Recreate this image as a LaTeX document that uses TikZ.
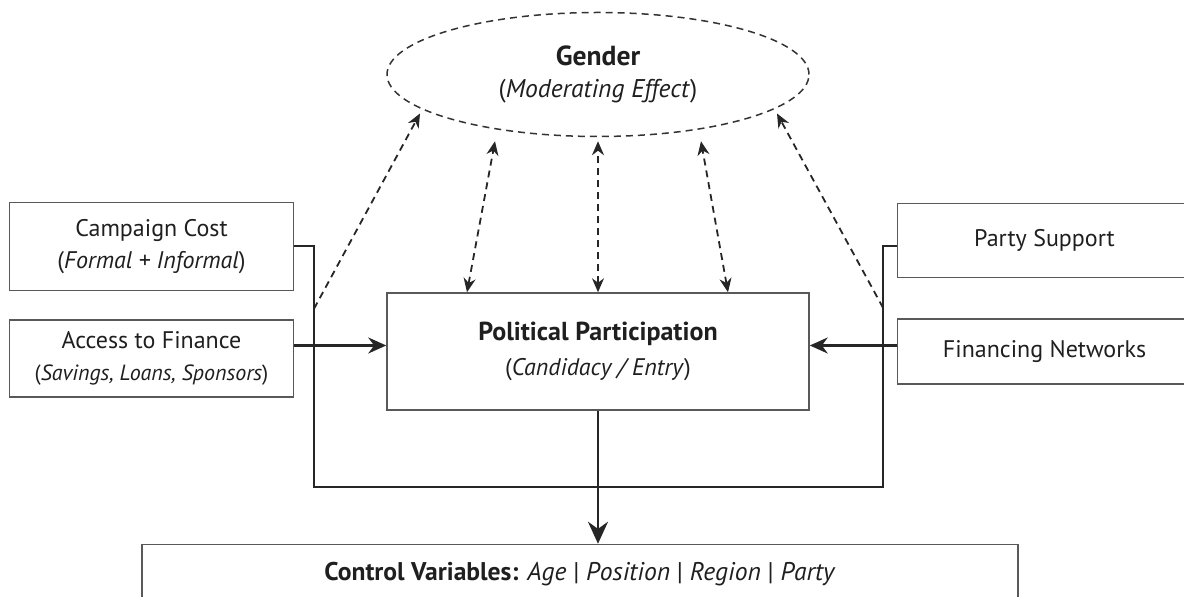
\documentclass[tikz,border=0pt]{standalone}
\usepackage{fontspec}
\setmainfont{PT Sans}
\usetikzlibrary{positioning,shapes.geometric,arrows.meta}

\tikzset{
  box/.style={draw=black!65, line width=0.75pt, align=center, inner sep=2pt, text=black!88},
  flow/.style={draw=black!85, line width=1.1pt, -{Stealth[length=9pt,width=8pt]}},
  link/.style={draw=black!85, line width=1pt},
  mod/.style={draw=black!85, line width=0.9pt, dash pattern=on 3.5pt off 2.5pt,
    {Stealth[length=7pt,width=6pt]}-{Stealth[length=7pt,width=6pt]}},
  modone/.style={draw=black!85, line width=0.9pt, dash pattern=on 3.5pt off 2.5pt,
    -{Stealth[length=7pt,width=6pt]}}
}

\begin{document}
\begin{tikzpicture}[x=0.5pt, y=-0.5pt, font=\fontsize{12}{16}\selectfont]
    \useasboundingbox (0,0) rectangle (1184,597);

    \node[box, minimum width=211pt, minimum height=58.5pt]  (pp) at (598,351.5)
        {{\fontsize{13}{16}\selectfont\textbf{Political Participation}}\\[1.5pt](\textit{Candidacy / Entry})};
    \node[box, ellipse, draw=black!80, dash pattern=on 3.5pt off 2.5pt, minimum width=211pt,
          minimum height=62pt, above=77.5pt of pp]            (gender)
        {{\fontsize{13.8}{16}\selectfont\textbf{Gender}}\\{\fontsize{12.8}{16}\selectfont(\textit{Moderating Effect})}};
    \node[box, minimum width=142pt, minimum height=38.5pt,
          left=46pt of pp, yshift=-3.5pt]                     (finance)
        {Access to Finance\\{\fontsize{11}{14}\selectfont(\textit{Savings, Loans, Sponsors})}};
    \node[box, minimum width=142pt, minimum height=44pt,
          above=14pt of finance]                              (cost)
        {Campaign Cost\\(\textit{Formal + Informal})};
    \node[box, minimum width=147pt, minimum height=32.5pt,
          right=43.5pt of pp]                                 (networks) {Financing Networks};
    \node[box, minimum width=147pt, minimum height=37pt,
          above=20pt of networks]                             (support) {Party Support};
    \node[box, minimum width=438pt, minimum height=30pt, font=\fontsize{12.8}{16}\selectfont,
          below=66.5pt of pp, xshift=-9pt]                    (controls)
        {\textbf{Control Variables:} \textit{Age} | \textit{Position} | \textit{Region} | \textit{Party}};

    \coordinate[below=38pt of pp.south] (hub);
    \coordinate[left=142pt of hub]      (busL);
    \coordinate[right=142.5pt of hub]   (busR);
    \coordinate (inL) at ([yshift=3pt]pp.west);
    \coordinate (inR) at ([yshift=3pt]pp.east);

    % solid connectors
    \draw[link] (cost.east) -| (busL) -- (busR) |- ([yshift=-3pt]support.west);
    \draw[flow] (finance.east |- inL) -- (inL);
    \draw[flow] (networks.west |- inR) -- (inR);
    \draw[flow, -{Stealth[length=11pt,width=10pt]}] (pp.south) -- (pp.south |- controls.north);

    % moderating links
    \foreach \dx/\tx in {-65.5/-51.5, 0/0, 65/51.5}
        \draw[mod] ([xshift=\dx pt]pp.north) -- ([xshift=\tx pt, yshift=-2pt]gender.south);
    \draw[modone] ([yshift=89pt]busL) -- ([xshift=-89pt, yshift=-19.5pt]gender.center);
    \draw[modone] ([yshift=89.5pt]busR) -- ([xshift=89.5pt, yshift=-19.5pt]gender.center);
\end{tikzpicture}
\end{document}
